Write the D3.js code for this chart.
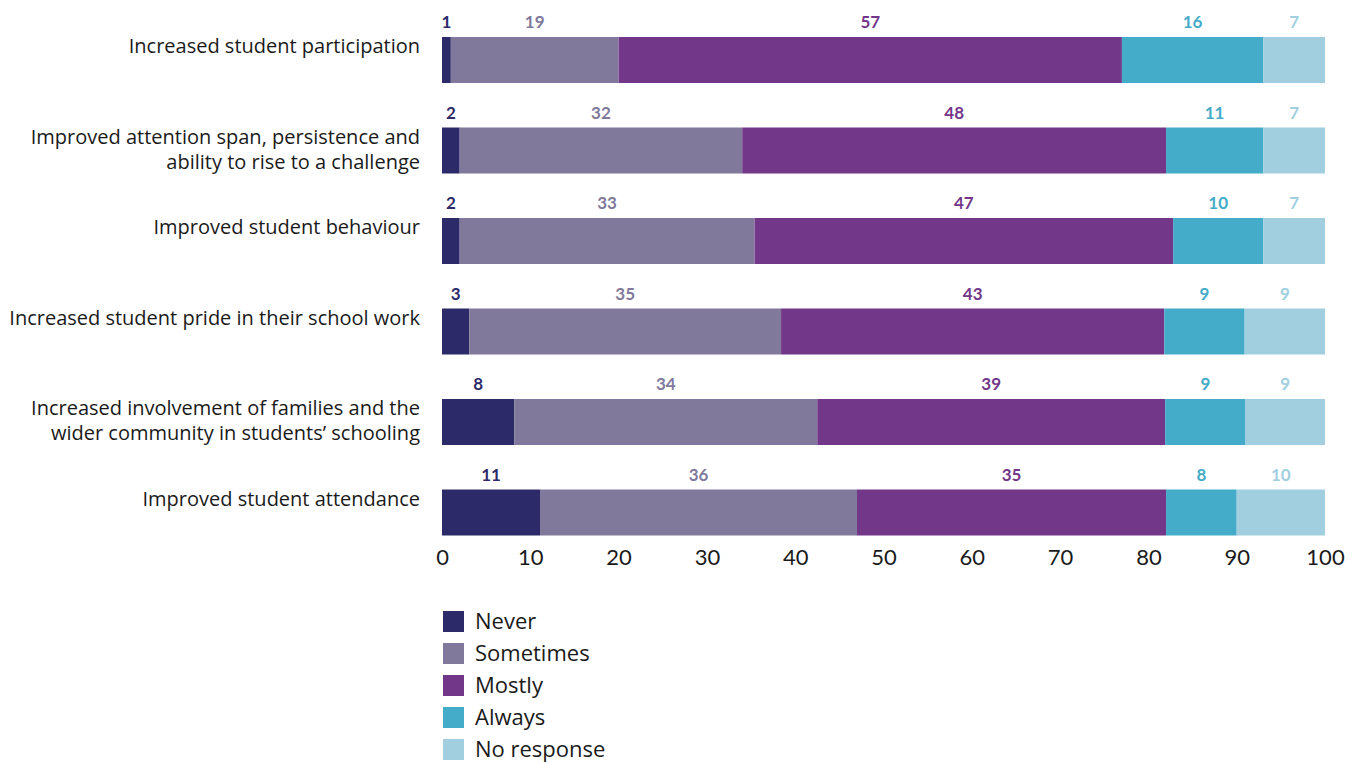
<!DOCTYPE html>
<html>
<head>
<meta charset="utf-8">
<script src="https://cdn.jsdelivr.net/npm/d3@7"></script>
<style>
  html, body { margin: 0; padding: 0; background: #fff; }
  svg { display: block; font-family: "Open Sans", "Noto Sans", sans-serif; }
</style>
</head>
<body>
<svg id="chart" width="1359" height="762"></svg>
<script>
// Survey outcomes: share of responses (%) per frequency rating
const categories = [
  ["Increased student participation"],
  ["Improved attention span, persistence and", "ability to rise to a challenge"],
  ["Improved student behaviour"],
  ["Increased student pride in their school work"],
  ["Increased involvement of families and the", "wider community in students\u2019 schooling"],
  ["Improved student attendance"]
];
const seriesNames = ["Never", "Sometimes", "Mostly", "Always", "No response"];
const seriesColors = ["#2d2a69", "#80799b", "#733789", "#44abc8", "#a1cfdf"];

const never      = [1,  2,  2,    3.1,  8.2,  11.1];
const sometimes  = [19, 32, 33.4, 35.3, 34.3, 35.9];
const mostly     = [57, 48, 47.4, 43.4, 39.4, 35];
const always     = [16, 11, 10.2, 9.1,  9.1,  8];
const noResponse = [7,  7,  7,    9.1,  9,    10];

const xTicks = [0, 10, 20, 30, 40, 50, 60, 70, 80, 90, 100];

const seriesValues = [never, sometimes, mostly, always, noResponse];
const rows = categories.map((c, i) => {
  const r = { key: c.join(" ") };
  seriesNames.forEach((s, j) => r[s] = seriesValues[j][i]);
  return r;
});

const svg = d3.select("#chart");

const x = d3.scaleLinear().domain([0, 100]).range([442, 1325]);
const y = d3.scaleBand()
  .domain(rows.map(r => r.key))
  .range([37, 535.5])
  .paddingInner(44.5 / 90.5)
  .paddingOuter(0);
const color = d3.scaleOrdinal().domain(seriesNames).range(seriesColors);

const stacked = d3.stack().keys(seriesNames)(rows);

// stacked segments
const layers = svg.append("g").selectAll("g")
  .data(stacked).join("g")
  .attr("fill", d => color(d.key));

layers.selectAll("rect")
  .data(d => d.map(p => ({ p, key: d.key })))
  .join("rect")
  .attr("x", d => x(d.p[0]))
  .attr("y", d => y(d.p.data.key))
  .attr("width", d => x(d.p[1]) - x(d.p[0]))
  .attr("height", y.bandwidth());

// value labels above each segment
layers.selectAll("text")
  .data(d => d.map(p => ({ p, key: d.key })))
  .join("text")
  .attr("x", d => (x(d.p[0]) + x(d.p[1])) / 2)
  .attr("y", d => y(d.p.data.key) - 9)
  .attr("text-anchor", "middle")
  .attr("font-family", "Lato, sans-serif")
  .attr("font-size", 17)
  .attr("font-weight", 700)
  .attr("fill", d => color(d.key))
  .text(d => Math.round(d.p[1] - d.p[0]));

// category labels
const catG = svg.append("g");
rows.forEach((r, i) => {
  const t = catG.append("text")
    .attr("x", 420)
    .attr("y", y(r.key) + 16)
    .attr("text-anchor", "end")
    .attr("font-size", 20)
    .attr("fill", "#1a1a1a");
  categories[i].forEach((line, k) => {
    t.append("tspan")
      .attr("x", 420)
      .attr("dy", k === 0 ? 0 : 25)
      .text(line);
  });
});

// x axis
const xAxis = svg.append("g")
  .attr("transform", "translate(0,548)")
  .call(d3.axisBottom(x).tickValues(xTicks).tickSize(0).tickPadding(0));
xAxis.select(".domain").remove();
xAxis.selectAll("text")
  .attr("font-family", "Lato, sans-serif")
  .attr("font-size", 22)
  .attr("fill", "#1a1a1a")
  .attr("dy", "0.78em");

// legend
const legend = svg.append("g").attr("transform", "translate(443,611)");
const li = legend.selectAll("g").data(seriesNames).join("g")
  .attr("transform", (d, i) => `translate(0,${i * 32})`);
li.append("rect").attr("width", 21).attr("height", 21).attr("fill", d => color(d));
li.append("text")
  .attr("x", 32).attr("y", 18)
  .attr("font-size", 22)
  .attr("fill", "#1a1a1a")
  .text(d => d);
</script>
</body>
</html>
